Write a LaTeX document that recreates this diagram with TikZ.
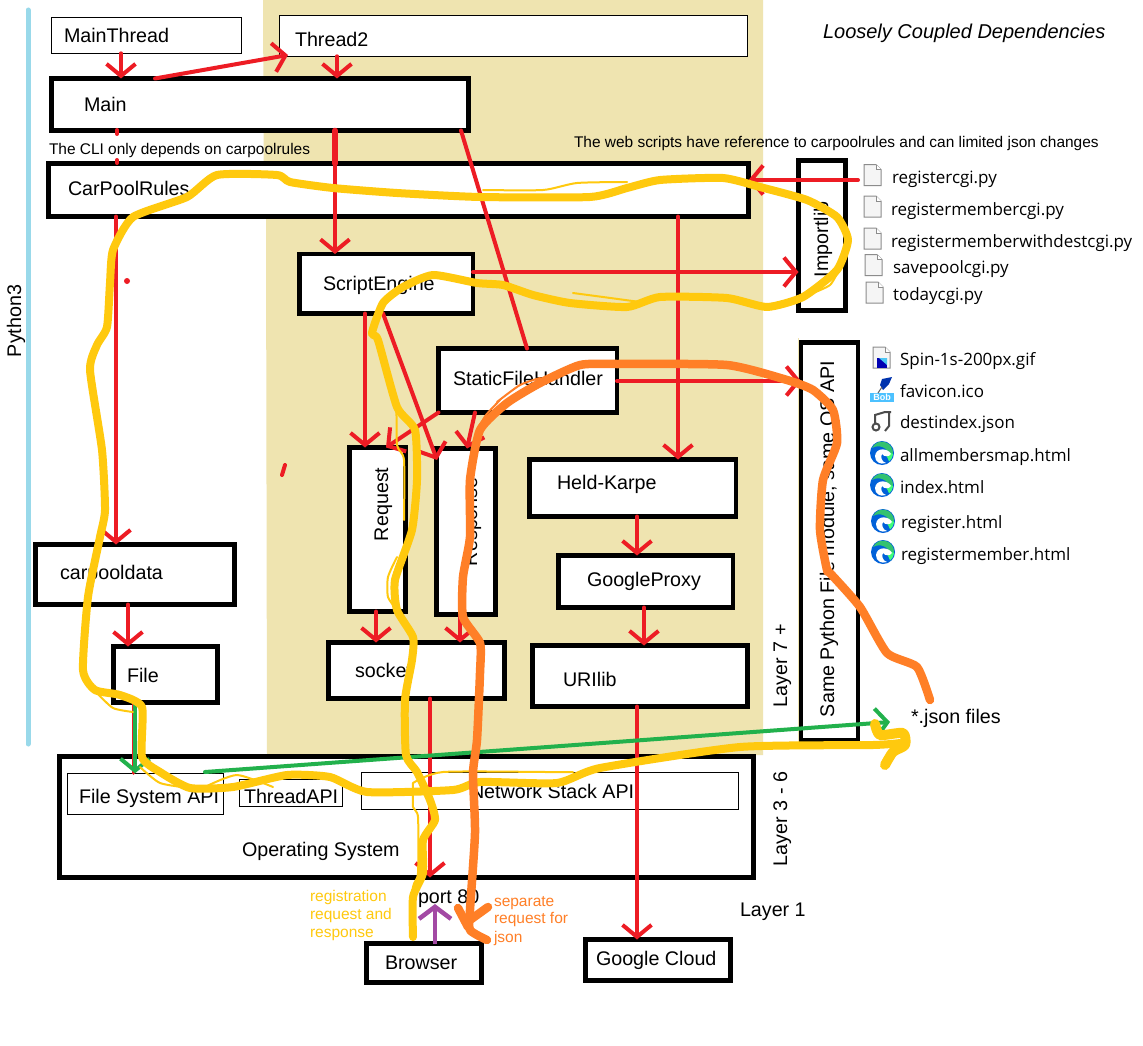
\documentclass[tikz,border=0pt]{standalone}
\usepackage{fontspec}
\setmainfont{Liberation Sans}
\newfontfamily\uifont{Open Sans}
\usetikzlibrary{arrows.meta}
\definecolor{tan}{HTML}{EFE4B0}
\definecolor{rd}{HTML}{ED1C24}
\definecolor{gold}{HTML}{FFC90E}
\definecolor{orng}{HTML}{FF7F27}
\definecolor{grn}{HTML}{22B14C}
\definecolor{prp}{HTML}{A349A4}
\definecolor{sky}{HTML}{99D9EA}
\tikzset{
  thick box/.style={draw=black,fill=white,line width=4.5pt,inner sep=0pt,outer sep=0pt},
  thin box/.style={draw=black,fill=white,line width=1pt,inner sep=0pt,outer sep=0pt},
  lbl/.style={anchor=base west,inner sep=0pt,outer sep=0pt,font=\fontsize{19.7}{21}\selectfont},
  vlbl/.style={lbl,rotate=90},
  small lbl/.style={lbl,font=\fontsize{15.45}{17}\selectfont},
  ui lbl/.style={lbl,font=\uifont\fontsize{17}{19}\selectfont},
  note/.style={lbl,font=\fontsize{15.5}{17.7}\selectfont,align=left},
  rar/.style={draw=rd,line width=4pt,line cap=round,-{Straight Barb[length=12pt,width=29pt,line width=4pt]}},
  rline/.style={draw=rd,line width=4pt,line cap=round},
  gar/.style={draw=grn,line width=4pt,line cap=round,-{Straight Barb[length=12pt,width=29pt,line width=4pt]}},
  par/.style={draw=prp,line width=4.5pt,-{Straight Barb[length=12pt,width=32pt,line width=4.5pt]}},
  yel/.style={draw=gold,line width=8pt,line cap=round,line join=round},
  yelthin/.style={draw=gold,line width=2pt,line cap=round,line join=round},
  org/.style={draw=orng,line width=8.5pt,line cap=round,line join=round},
  orgthin/.style={draw=orng,line width=2pt,line cap=round,line join=round},
  pageicon/.pic={
    \fill[white!96!black,draw=black!45,line width=1pt] (0,0) -- (12,0) -- (17,5) -- (17,21) -- (0,21) -- cycle;
    \draw[black!45,line width=.8pt,fill=white] (12,0) -- (12,5) -- (17,5);
  },
  edgeicon/.pic={
    \fill[blue!55!cyan!85!black] (0,0) circle (12);
    \fill[teal!60!green!80!white] (-10,-5) arc[start angle=-155,end angle=30,radius=11] .. controls (6,-6) and (-3,-9) .. (-10,-5) -- cycle;
    \fill[green!70!cyan!75!white] (11,1) arc[start angle=5,end angle=50,radius=11] -- (2,-3) -- cycle;
    \fill[white] (-7,3) .. controls (-6,-6) and (6,-5) .. (9,1) .. controls (7,4) and (2,4) .. (0,1) .. controls (-2,4) and (0,9) .. (4,10) .. controls (-2,12) and (-7,9) .. (-7,3) -- cycle;
  }
}
\newcommand\bx[7][thick box]{\node[#1,minimum width={(#5-#3)*1pt},minimum height={(#6-#4)*1pt}] (#2) at ({(#3+#5)/2},{(#4+#6)/2}) {#7};}
\begin{document}
\begin{tikzpicture}[x=1pt,y=-1pt]
\useasboundingbox (0,0) rectangle (1143,1046);
\fill[white] (0,0) rectangle (1143,1046);
% tan panel
\fill[tan] (263,0) -- (763,0) -- (763,755) -- (267,755) -- (266,217) -- (264,217) -- cycle;
\draw[tan,line width=1pt] (798,338) -- (798,742);
% python line
\draw[sky,line width=5pt,line cap=round] (28,10) -- (28,744);
% boxes
\bx[thin box]{mt}{51.3}{17.3}{241.3}{53.3}{}
\bx[thin box]{thr}{279.3}{15.3}{747}{56.3}{}
\bx{main}{51.5}{78.5}{468.5}{130.5}{}
\bx{rules}{48.5}{163.5}{748.5}{216.5}{}
\bx{imp}{798.5}{160.5}{845.5}{310.5}{}
\bx{same}{801}{342.5}{858}{740}{}
\bx{se}{299.5}{254}{473}{313.5}{}
\bx{sfh}{438.5}{348.5}{617}{412.5}{}
\bx{req}{349.5}{447.5}{405.5}{611.5}{}
\bx{resp}{436.5}{448.5}{495.5}{614.5}{}
\bx{hk}{529.5}{459.5}{736}{516.5}{}
\bx{gp}{558.5}{555.5}{733}{607.5}{}
\bx{url}{532.5}{645.5}{747.5}{706.5}{}
\bx{sock}{328.5}{642.5}{504.5}{698.5}{}
\bx{cdata}{35.5}{544.5}{234.5}{604.5}{}
\bx{file}{113.5}{646.5}{217.5}{702.5}{}
\bx{os}{59.5}{756.5}{753.5}{877.5}{}
\bx[thin box]{fsapi}{67.3}{773.3}{223.7}{814.7}{}
\bx[thin box]{tapi}{239.3}{779.3}{342.7}{806.3}{}
\bx[thin box]{nsapi}{361.3}{772.3}{738}{809.3}{}
\bx{browser}{366.5}{943.5}{481.5}{982.5}{}
\bx{gcloud}{585.5}{939.5}{730.5}{980.5}{}
% box labels
\node[lbl] (tmt) at (64,43) {MainThread};
\node[lbl] (tthr) at (295,47) {Thread2};
\node[lbl] (tmain) at (84,112) {Main};
\node[lbl] (trules) at (68,195) {CarPoolRules};
\node[lbl] (tse) at (323,290) {ScriptEngine};
\node[lbl] (tsfh) at (453,385) {StaticFileHandler};
\node[lbl] (thk) at (557,489) {Held-Karpe};
\node[lbl] (tgp) at (587,586) {GoogleProxy};
\node[lbl] (turl) at (563,686) {URIlib};
\node[lbl] (tsock) at (355,677) {socket};
\node[lbl] (tcdata) at (60,579) {carpooldata};
\node[lbl] (tfile) at (127,682) {File};
\node[lbl] (tfs) at (79,803) {File System API};
\node[lbl] (tta) at (244,803) {ThreadAPI};
\node[lbl] (tns) at (470,798) {Network Stack API};
\node[lbl] (tos) at (242,856) {Operating System};
\node[lbl] (tbr) at (385,969) {Browser};
\node[lbl] (tgc) at (596,965) {Google Cloud};
\node[lbl] (tport) at (418,903) {port 80};
\node[lbl] (tl1) at (740,916) {Layer 1};
\node[vlbl] (treq) at (388,541) {Request};
\node[vlbl] (tresp) at (477,566) {Response};
\node[vlbl] (timp) at (828,277) {Importlib};
\node[vlbl] (tsame) at (834,717) {Same Python File module, same OS API};
\node[vlbl] (tl7) at (787,707) {Layer 7 +};
\node[vlbl] (tl3) at (787,866) {Layer 3 - 6};
\node[vlbl] (tpy) at (21,357) {Python3};
\node[small lbl] (tcli) at (49,154) {The CLI only depends on carpoolrules};
\node[small lbl] (tweb) at (574,147) {The web scripts have reference to carpoolrules and can limited json changes};
\node[lbl,font=\itshape\fontsize{20}{22}\selectfont] (ttitle) at (823,39) {Loosely Coupled Dependencies};
\node[lbl] (json) at (911,723) {*.json files};
% file labels
\node[ui lbl] (f1) at (892,183) {registercgi.py};
\node[ui lbl] (f2) at (891,215) {registermembercgi.py};
\node[ui lbl] (f3) at (891,247) {registermemberwithdestcgi.py};
\node[ui lbl] (f4) at (893,273) {savepoolcgi.py};
\node[ui lbl] (f5) at (893,300) {todaycgi.py};
\node[ui lbl] (g1) at (900,365) {Spin-1s-200px.gif};
\node[ui lbl] (g2) at (900,397) {favicon.ico};
\node[ui lbl] (g3) at (900,428) {destindex.json};
\node[ui lbl] (g4) at (900,461) {allmembersmap.html};
\node[ui lbl] (g5) at (900,493) {index.html};
\node[ui lbl] (g6) at (901,528) {register.html};
\node[ui lbl] (g7) at (901,560) {registermember.html};
\coordinate (regstub) at (858,180);
% icons
\pic at (864,164.5) {pageicon};
\pic at (864,196) {pageicon};
\pic at (864,228) {pageicon};
\pic at (865,254.5) {pageicon};
\pic at (866,282) {pageicon};
\pic at (873,347) {pageicon};
\fill[blue!70!black] (877,358) rectangle (887,368);
\fill[cyan!70!white] (879,358) -- (887,358) -- (887,365) -- cycle;
% favicon
\fill[blue!35!cyan!70!white] (870,393) rectangle (894,402);
\node[inner sep=0pt,font=\bfseries\fontsize{9}{9}\selectfont,text=white] (bob) at (882,397.5) {Bob};
\fill[blue!60!black!80!cyan] (882,379) -- (892,377) -- (889,384) -- (883,390) -- (880,385) -- cycle;
\draw[black!60,line width=1pt] (882,387) -- (878,393);
% destindex
\draw[black!70,line width=2pt] (875,423) -- (875,415) -- (885,412) -- (891,412) (889,412) -- (889,426) -- (885,431);
\draw[black!70,line width=2pt] (876,427) circle (3.5);
% edge
\pic at (882,453) {edgeicon};
\pic at (882,485) {edgeicon};
\pic at (883,521) {edgeicon};
\pic at (883,552) {edgeicon};
% red connectors
\draw[rar] (121,0 |- mt.south) -- (121,0 |- main.north);
\draw[rar] (155,0 |- main.north) -- (288,55);
\draw[rar] (337,0 |- thr.south) -- (337,0 |- main.north);
\draw[rline] (117,130) -- (117,134);
\draw[rline] (117,160) -- (117,163);
\draw[rline,line width=5.5pt] (335,0 |- main.south) -- (335,0 |- rules.north);
\draw[rar] (335,0 |- rules.south) -- (335,0 |- se.north);
\draw[rline] (335,0 |- rules.north) -- (335,0 |- rules.south);
\draw[rline] (461,0 |- main.south) -- (527,0 |- sfh.north);
\draw[rar] (116,0 |- rules.south) -- (116,0 |- cdata.north);
\draw[rar] (678,0 |- rules.south) -- (678,0 |- hk.north);
\draw[rar] (se.east |- 0,272) -- (imp.west |- 0,272);
\draw[rar] (regstub) -- (rules.east |- regstub);
\draw[rar] (sfh.east |- 0,381) -- (same.west |- 0,381);
\draw[rar] (365,0 |- se.south) -- (365,0 |- req.north);
\draw[rar] (383,0 |- se.south) -- (437,460);
\draw[rar] (sfh.south west) -- (386,0 |- req.north);
\draw[rar] (475,0 |- sfh.south) -- (467,0 |- resp.north);
\draw[rar] (376,0 |- req.south) -- (376,0 |- sock.north);
\draw[rar] (460,0 |- resp.south) -- (460,0 |- sock.north);
\draw[rar] (637,0 |- hk.south) -- (637,0 |- gp.north);
\draw[rar] (644,0 |- gp.south) -- (644,0 |- url.north);
\draw[rar] (637,0 |- url.south) -- (637,0 |- gcloud.north);
\draw[rar] (128,0 |- cdata.south) -- (128,0 |- file.north);
\draw[rline,line width=3pt] (133,0 |- file.south) -- (133,0 |- fsapi.north);
\draw[rar] (430,0 |- sock.south) -- (430,0 |- os.south);
\fill[rd] (127,281) circle (3);
\draw[rline] (285,465) -- (282,475);
% green
\draw[gar] (135,0 |- file.south) -- (135,0 |- fsapi.north);
\draw[gar] (205,772) -- (890,722);
% purple
\draw[par] (435,0 |- browser.north) -- (435,904);
% notes
\node[note,text=gold] (nreg) at (310,901) {registration};
\node[note,text=gold] (nreg2) at (310,919) {request and};
\node[note,text=gold] (nreg3) at (310,937) {response};
\node[note,text=orng] (nsep) at (494,906) {separate};
\node[note,text=orng] (nsep2) at (494,923) {request for};
\node[note,text=orng] (nsep3) at (494,942) {json};
% yellow freehand route
\draw[yel] plot[smooth,tension=.35] coordinates {
 (413,937) (413,897) (423,873) (423,840) (435,820) (430,800) (417,772) (406,755) (405,700) (412,660) (413,637) (397,610) (395,580) (412,530) (417,480) (415,430) (397,407) (378,340) (372,333) (383,303) (403,287) (433,275) (477,283) (503,285) (533,295) (570,303) (627,307) (660,297) (727,298) (767,307) (803,297) (837,270) (848,240) (837,217) (807,200) (760,187) (723,178) (660,180) (627,188) (590,197) (480,197) (397,193) (333,188) (290,182) (277,175) (217,175) (187,197) (133,217) (113,250) (110,283) (107,327) (97,345) (90,370) (102,450) (105,510) (100,537) (88,597) (83,670) (95,690) (120,695) (142,707) (142,757) (160,772) (190,788) (233,787) (287,775) (330,777) (367,792) (453,790) (480,782) (557,783) (600,768) (740,747) (873,745) (900,743)};
\draw[yel,line width=10pt] plot[smooth,tension=.4] coordinates {(875,724) (880,735) (903,733) (905,745) (893,752) (885,765)};
\draw[yelthin] plot[smooth,tension=.4] coordinates {(483,190) (543,190) (577,183) (627,182)};
\draw[yelthin] plot[smooth,tension=.4] coordinates {(573,293) (603,297) (640,302)};
\draw[yelthin] plot[smooth,tension=.4] coordinates {(813,293) (830,285) (839,270)};
\draw[yelthin] plot[smooth,tension=.4] coordinates {(375,340) (383,360) (388,385) (396,405) (397,445) (404,460) (404,520)};
\draw[yelthin] plot[smooth,tension=.4] coordinates {(397,557) (388,577) (388,597) (397,610)};
\draw[yelthin] plot[smooth,tension=.4] coordinates {(413,783) (413,807) (418,817) (418,873) (413,887) (410,927)};
\draw[yelthin] plot[smooth,tension=.4] coordinates {(97,693) (113,708) (133,712)};
\draw[yelthin] plot[smooth,tension=.4] coordinates {(140,767) (160,783) (190,788)};
\draw[yelthin] plot[smooth,tension=.4] coordinates {(207,786) (237,775) (273,787)};
\draw[yelthin] plot[smooth,tension=.4] coordinates {(413,783) (443,772) (547,772) (573,772)};
% orange freehand route
\draw[org] plot[smooth,tension=.35] coordinates {
 (487,940) (470,930) (470,910) (475,833) (473,773) (477,740) (480,673) (480,643) (463,617) (463,577) (470,537) (470,480) (480,430) (507,403) (540,383) (580,365) (617,364) (727,365) (787,380) (813,390) (833,410) (837,443) (823,480) (820,530) (827,570) (830,573) (860,607) (887,653) (917,667) (930,700)};
\draw[org] (458,908) -- (468,927);
\draw[org] (488,907) -- (470,920);
\draw[orgthin] plot[smooth,tension=.4] coordinates {(497,402) (520,385) (540,378)};
\draw[orgthin] plot[smooth,tension=.4] coordinates {(477,430) (486,415) (500,400)};
\end{tikzpicture}
\end{document}
